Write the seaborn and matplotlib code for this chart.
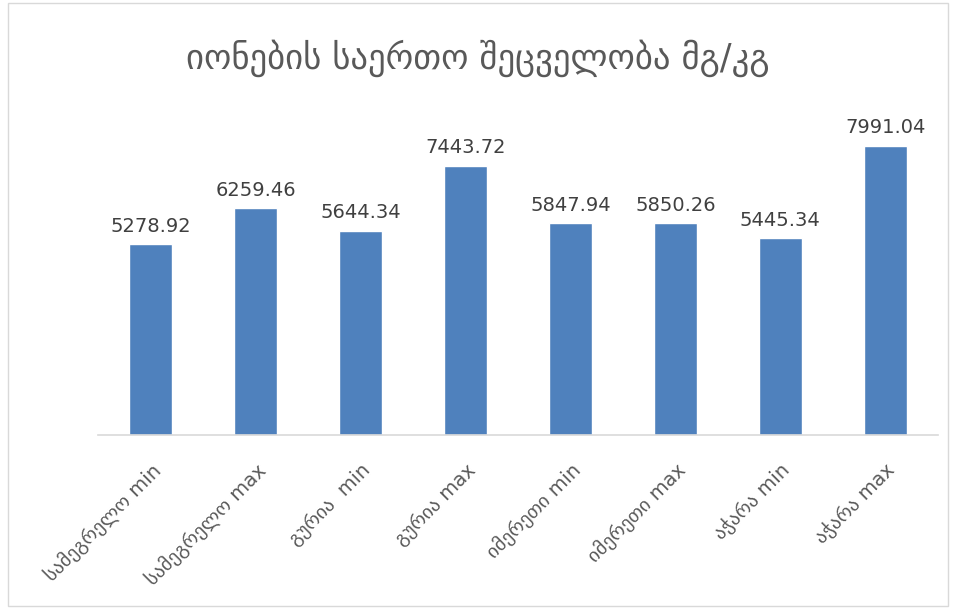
import matplotlib
matplotlib.use("Agg")
import matplotlib.pyplot as plt
import seaborn as sns
import pandas as pd
from matplotlib.patches import Rectangle

# მონაცემები
kategoriebi = ["სამეგრელო min", "სამეგრელო max", "გურია  min", "გურია max",
               "იმერეთი min", "იმერეთი max", "აჭარა min", "აჭარა max"]
mnishvnelobebi = [5278.92, 6259.46, 5644.34, 7443.72, 5847.94, 5850.26, 5445.34, 7991.04]
satauri = "იონების საერთო შეცველობა მგ/კგ"

df = pd.DataFrame({"kat": kategoriebi, "val": mnishvnelobebi})

sns.set_style("white")
plt.rcParams['font.family'] = ['DejaVu Sans']
txt = "#595959"

fig = plt.figure(figsize=(9.56, 6.09), dpi=100)
ax = fig.add_axes([0.1025, 0.2857, 0.8785, 0.535])

sns.barplot(data=df, x="kat", y="val", color="#4F81BD", saturation=1,
            width=0.41, ax=ax)

for i, v in enumerate(mnishvnelobebi):
    ax.text(i, v + 230, f"{v:.2f}", ha="center", va="bottom",
            fontsize=14, color="#404040")

ax.set_ylim(0, 9000)
ax.set_xlim(-0.5, len(kategoriebi) - 0.5)
ax.set_xlabel("")
ax.set_ylabel("")
ax.set_yticks([])
for s in ["top", "right", "left"]:
    ax.spines[s].set_visible(False)
ax.spines["bottom"].set_color("#d9d9d9")
ax.spines["bottom"].set_linewidth(1.2)

ax.set_xticks(range(len(kategoriebi)))
ax.set_xticklabels(kategoriebi, rotation=45, ha="right", rotation_mode="anchor",
                   fontsize=14, color=txt)
ax.tick_params(axis="x", length=0, pad=18)

fig.text(0.5, 0.905, satauri, ha="center", va="center", fontsize=25, color=txt)

fig.patches.append(Rectangle((0.008, 0.005), 0.984, 0.99, transform=fig.transFigure,
                             fill=False, edgecolor="#d9d9d9", linewidth=1))

fig.savefig("out.png", dpi=100)
